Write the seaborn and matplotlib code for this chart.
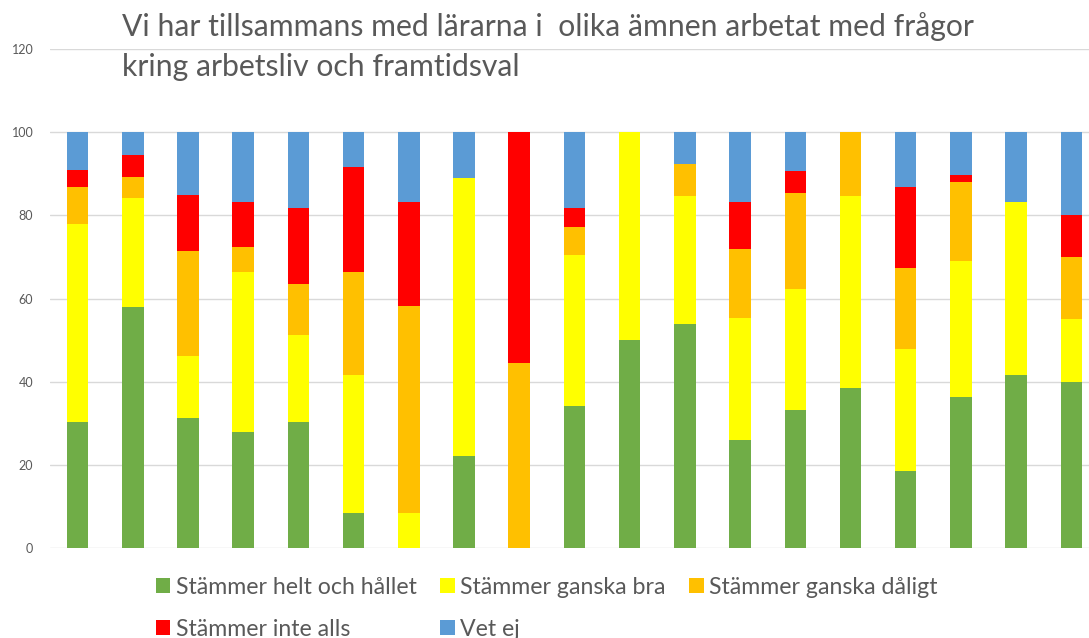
import numpy as np
import pandas as pd
import matplotlib
matplotlib.use("Agg")
import matplotlib.pyplot as plt
from matplotlib.patches import Patch
import seaborn as sns

sns.set_theme(style="white")
plt.rcParams["font.family"] = ["Lato", "DejaVu Sans"]

title = "Vi har tillsammans med lärarna i  olika ämnen arbetat med frågor\nkring arbetsliv och framtidsval"

categories = [str(i) for i in range(1, 20)]
series_names = ["Stämmer helt och hållet", "Stämmer ganska bra", "Stämmer ganska dåligt",
                "Stämmer inte alls", "Vet ej"]

helt = [30.4, 57.9, 31.3, 27.9, 30.4, 8.4, 0, 22.2, 0, 34.1, 50.0, 53.8, 26.0, 33.3, 38.5, 18.6, 36.2, 41.7, 40.0]
ganska_bra = [47.6, 26.2, 14.8, 38.6, 20.9, 33.3, 8.4, 66.7, 0, 36.3, 50.0, 30.8, 29.4, 29.1, 46.2, 29.2, 32.8, 41.6, 15.0]
ganska_daligt = [8.9, 5.2, 25.4, 5.8, 12.2, 24.8, 49.9, 0, 44.4, 6.8, 0, 7.7, 16.6, 23.0, 15.3, 19.6, 19.0, 0, 15.0]
inte_alls = [4.1, 5.3, 13.4, 11.0, 18.2, 25.1, 25.0, 0, 55.6, 4.5, 0, 0, 11.3, 5.2, 0, 19.5, 1.7, 0, 10.0]
vet_ej = [9.0, 5.4, 15.1, 16.7, 18.3, 8.4, 16.7, 11.1, 0, 18.3, 0, 7.7, 16.7, 9.4, 0, 13.1, 10.3, 16.7, 20.0]

colors = ["#70AD47", "#FFFF00", "#FFC000", "#FF0000", "#5B9BD5"]
y_ticks = [0, 20, 40, 60, 80, 100, 120]

df = pd.DataFrame({"kategori": categories, series_names[0]: helt, series_names[1]: ganska_bra,
                   series_names[2]: ganska_daligt, series_names[3]: inte_alls, series_names[4]: vet_ej})
cum = df[series_names].cumsum(axis=1)

fig = plt.figure(figsize=(10.89, 6.38), dpi=100)
ax = fig.add_axes([50 / 1089, 0.1411, 1039 / 1089, 0.7819])

# stacked bars: draw cumulative totals from the top layer down
for name, color in reversed(list(zip(series_names, colors))):
    sns.barplot(x=df["kategori"], y=cum[name], color=color, saturation=1, width=0.39,
                linewidth=0, ax=ax, order=categories)

ax.set_xlim(-0.5, 18.32)
ax.set_ylim(0, 120)
ax.set_yticks(y_ticks)
ax.set_xticks([])
ax.set_xlabel("")
ax.set_ylabel("")
ax.yaxis.grid(True, color="#D9D9D9", linewidth=1.0)
ax.set_axisbelow(True)
for s in ax.spines.values():
    s.set_visible(False)
ax.tick_params(axis="y", length=0, pad=12, labelsize=9, labelcolor="#595959")

fig.text(122 / 1089, 1 - 12 / 638, title, ha="left", va="top", fontsize=21.7,
         color="#595959", linespacing=1.53)

# legend reads row by row, matplotlib fills column by column
handles = [Patch(facecolor=c, edgecolor="none") for c in colors]
order = [0, 3, 1, 4, 2]
fig.legend([handles[i] for i in order], [series_names[i] for i in order], ncol=3, loc="upper left",
           bbox_to_anchor=(156 / 1089, 1 - 577 / 638), frameon=False, fontsize=16.7,
           handlelength=0.62, handleheight=0.62, handletextpad=0.25,
           columnspacing=1.0, labelspacing=0.9, borderpad=0, borderaxespad=0,
           labelcolor="#595959")

plt.savefig("out.png", dpi=100)
plt.close()
